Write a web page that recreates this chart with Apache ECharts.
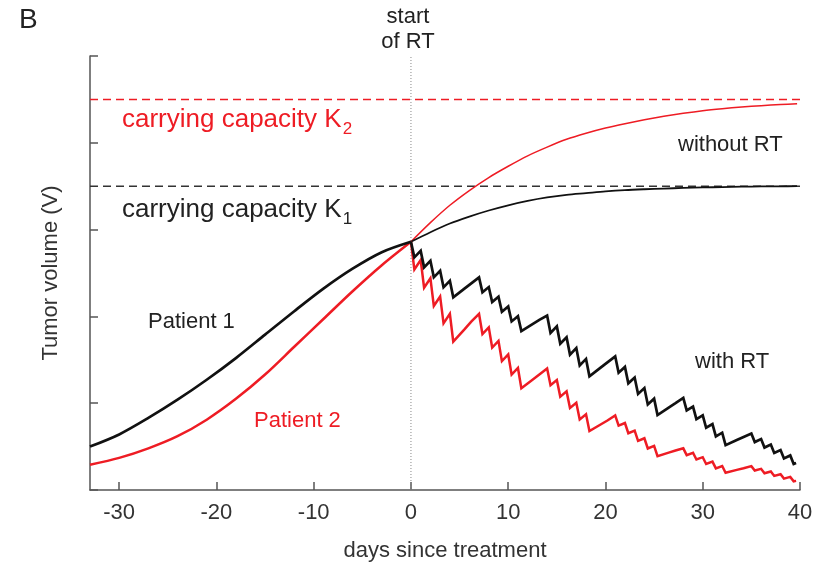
<!DOCTYPE html>
<html>
<head>
<meta charset="utf-8">
<script src="https://cdn.jsdelivr.net/npm/echarts@6/dist/echarts.min.js"></script>
<style>
  html, body { margin: 0; padding: 0; background: #fff; }
  #chart { width: 819px; height: 567px; }
</style>
</head>
<body>
<div id="chart"></div>
<script>
// Tumour growth before treatment (days -33 .. 0)
const preDays = [-33, -30, -27, -24, -21, -18, -15, -12, -9, -6, -3, 0];
const patient1Growth = [0.50, 0.64, 0.83, 1.04, 1.27, 1.52, 1.79, 2.06, 2.32, 2.55, 2.74, 2.86];
const patient2Growth = [0.29, 0.37, 0.48, 0.62, 0.81, 1.05, 1.33, 1.65, 1.97, 2.29, 2.59, 2.86];

// Untreated growth after day 0
const postDays = [0, 2, 4, 6, 8, 10, 12, 14, 16, 18, 20, 22, 24, 26, 28, 30, 32, 34, 36, 38, 39.7];
const patient1NoRT = [2.86, 2.97, 3.07, 3.15, 3.22, 3.28, 3.33, 3.37, 3.40, 3.42, 3.44,
                      3.455, 3.465, 3.473, 3.48, 3.486, 3.49, 3.494, 3.497, 3.499, 3.50];
const patient2NoRT = [2.86, 3.08, 3.28, 3.45, 3.60, 3.73, 3.85, 3.95, 4.04, 4.11, 4.17,
                      4.22, 4.265, 4.305, 4.34, 4.37, 4.393, 4.412, 4.428, 4.44, 4.45];

// Daily fractions Mon-Fri: each dose gives a point before it and one just after it
const rtDays = [
  0, 0.35, 1, 1.35, 2, 2.35, 3, 3.35, 4, 4.35, 5.5, 6.2,
  7, 7.35, 8, 8.35, 9, 9.35, 10, 10.35, 11, 11.35, 12.5, 13.2,
  14, 14.35, 15, 15.35, 16, 16.35, 17, 17.35, 18, 18.35, 19.5, 20.2,
  21, 21.35, 22, 22.35, 23, 23.35, 24, 24.35, 25, 25.35, 26.5, 27.2,
  28, 28.35, 29, 29.35, 30, 30.35, 31, 31.35, 32, 32.35, 33.5, 34.2,
  35, 35.35, 36, 36.35, 37, 37.35, 38, 38.35, 39, 39.35, 39.6
];
const patient1RT = [
  2.86, 2.68, 2.755, 2.565, 2.64, 2.45, 2.525, 2.335, 2.41, 2.22, 2.32, 2.38,
  2.45, 2.278, 2.338, 2.166, 2.226, 2.054, 2.114, 1.942, 2.002, 1.83, 1.91, 1.96,
  2.01, 1.81, 1.885, 1.685, 1.76, 1.56, 1.635, 1.435, 1.51, 1.31, 1.41, 1.47,
  1.54, 1.351, 1.418, 1.229, 1.296, 1.107, 1.174, 0.985, 1.052, 0.863, 0.95, 1.0,
  1.06, 0.917, 0.96, 0.817, 0.86, 0.717, 0.76, 0.617, 0.66, 0.517, 0.575, 0.61,
  0.65, 0.552, 0.587, 0.489, 0.524, 0.426, 0.461, 0.363, 0.398, 0.30, 0.31
];
const patient2RT = [
  2.86, 2.54, 2.65, 2.33, 2.44, 2.12, 2.23, 1.92, 2.03, 1.71, 1.85, 1.94,
  2.03, 1.797, 1.874, 1.641, 1.718, 1.485, 1.562, 1.329, 1.406, 1.173, 1.27, 1.33,
  1.40, 1.208, 1.268, 1.076, 1.136, 0.944, 1.004, 0.812, 0.872, 0.68, 0.755, 0.80,
  0.86, 0.742, 0.772, 0.654, 0.684, 0.566, 0.596, 0.478, 0.508, 0.39, 0.43, 0.455,
  0.48, 0.402, 0.429, 0.351, 0.378, 0.30, 0.327, 0.249, 0.276, 0.198, 0.232, 0.25,
  0.275, 0.224, 0.244, 0.193, 0.213, 0.162, 0.182, 0.131, 0.151, 0.10, 0.105
];

// Carrying capacities
const capacityK1 = 3.5;
const capacityK2 = 4.5;

// Axes
const xRange = [-33, 40];
const xTicks = [-30, -20, -10, 0, 10, 20, 30, 40];
const yRange = [0, 5];
const treatmentStart = 0;

const RED = '#ee1c24';
const BLACK = '#111111';
const INK = '#222222';
const FONT = '"Liberation Sans", Arial, Helvetica, sans-serif';

const pairs = (xs, ys) => xs.map((x, i) => [x, ys[i]]);

const chart = echarts.init(document.getElementById('chart'), null, { renderer: 'canvas' });

// text width helper for centring and subscripts
const measureCtx = document.createElement('canvas').getContext('2d');
function textWidth(str, size) {
  measureCtx.font = size + 'px ' + FONT;
  return measureCtx.measureText(str).width;
}

function textEl(text, x, y, color, size) {
  return {
    type: 'text', x: x, y: y, silent: true,
    style: { text: text, fill: color, font: size + 'px ' + FONT, textVerticalAlign: 'middle', verticalAlign: 'middle' }
  };
}
function centeredText(text, cx, y, color, size) {
  return textEl(text, cx - textWidth(text, size) / 2, y, color, size);
}

const capSize = 26;
const capLabel = 'carrying capacity K';
const capW = textWidth(capLabel, capSize);

chart.setOption({
  animation: false,
  backgroundColor: '#fff',
  grid: { left: 90, right: 19, top: 56, bottom: 75 },
  xAxis: {
    type: 'value', min: xRange[0], max: xRange[1],
    name: 'days since treatment', nameLocation: 'middle', nameGap: 50,
    nameTextStyle: { fontFamily: FONT, fontSize: 22, color: '#333' },
    axisLine: { show: true, onZero: false, lineStyle: { color: '#555', width: 1.5 } },
    axisTick: { show: true, inside: true, length: 8, customValues: xTicks, lineStyle: { color: '#555', width: 1.5 } },
    axisLabel: { customValues: xTicks, fontFamily: FONT, fontSize: 22, color: '#333', margin: 12 },
    splitLine: { show: false }
  },
  yAxis: {
    type: 'value', min: yRange[0], max: yRange[1], interval: 1,
    name: 'Tumor volume (V)', nameLocation: 'middle', nameGap: 28, nameRotate: 90,
    nameTextStyle: { fontFamily: FONT, fontSize: 22, color: '#333' },
    axisLine: { show: true, onZero: false, lineStyle: { color: '#555', width: 1.5 } },
    axisTick: { show: true, inside: true, length: 8, lineStyle: { color: '#555', width: 1.5 } },
    axisLabel: { show: false },
    splitLine: { show: false }
  },
  series: [
    {
      name: 'start of RT', type: 'line', symbol: 'none', silent: true,
      data: [[treatmentStart, yRange[0]], [treatmentStart, yRange[1]]],
      lineStyle: { color: '#888', width: 1, type: [1, 2] }
    },
    {
      name: 'K2', type: 'line', symbol: 'none', silent: true,
      data: [[xRange[0], capacityK2], [xRange[1], capacityK2]],
      lineStyle: { color: RED, width: 1.5, type: [8, 5] }
    },
    {
      name: 'K1', type: 'line', symbol: 'none', silent: true,
      data: [[xRange[0], capacityK1], [xRange[1], capacityK1]],
      lineStyle: { color: '#333', width: 1.5, type: [8, 5] }
    },
    {
      name: 'Patient 2 without RT', type: 'line', symbol: 'none', smooth: 0.3,
      data: pairs(postDays, patient2NoRT),
      lineStyle: { color: RED, width: 1.5 }
    },
    {
      name: 'Patient 1 without RT', type: 'line', symbol: 'none', smooth: 0.3,
      data: pairs(postDays, patient1NoRT),
      lineStyle: { color: BLACK, width: 1.8 }
    },
    {
      name: 'Patient 2', type: 'line', symbol: 'none', smooth: 0.3,
      data: pairs(preDays, patient2Growth),
      lineStyle: { color: RED, width: 2.5 }
    },
    {
      name: 'Patient 2 with RT', type: 'line', symbol: 'none',
      data: pairs(rtDays, patient2RT),
      lineStyle: { color: RED, width: 2.5, join: 'miter' }
    },
    {
      name: 'Patient 1', type: 'line', symbol: 'none', smooth: 0.3,
      data: pairs(preDays, patient1Growth),
      lineStyle: { color: BLACK, width: 2.7 }
    },
    {
      name: 'Patient 1 with RT', type: 'line', symbol: 'none',
      data: pairs(rtDays, patient1RT),
      lineStyle: { color: BLACK, width: 2.7, join: 'miter' }
    }
  ],
  graphic: [
    textEl('B', 19, 20, INK, 28),
    centeredText('start', 408, 17, INK, 22),
    centeredText('of RT', 408, 42, INK, 22),
    textEl(capLabel, 122, 120, RED, capSize),
    textEl('2', 122 + capW + 1, 129, RED, 17),
    textEl(capLabel, 122, 210, INK, capSize),
    textEl('1', 122 + capW + 1, 219, INK, 17),
    textEl('without RT', 678, 145, INK, 22),
    textEl('Patient 1', 148, 322, INK, 22),
    textEl('Patient 2', 254, 421, RED, 22),
    textEl('with RT', 695, 362, INK, 22)
  ]
});
</script>
</body>
</html>
